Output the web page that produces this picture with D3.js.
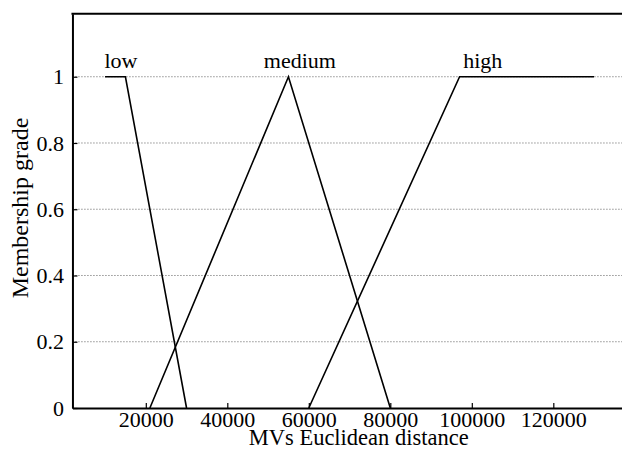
<!DOCTYPE html>
<html>
<head>
<meta charset="utf-8">
<script src="https://cdn.jsdelivr.net/npm/d3@7"></script>
<style>
  body { margin: 0; background: #fff; }
  svg text { font-family: "Liberation Serif", "Times New Roman", serif !important; }
</style>
</head>
<body>
<svg id="chart" width="622" height="450"></svg>
<script>
// membership functions (x in distance units, y in grade)
var lowPts = [[10000, 1], [15000, 1], [30000, 0]];
var mediumPts = [[21000, 0], [55000, 1], [80000, 0]];
var highPts = [[60000, 0], [97000, 1], [130000, 1]];
var mfNames = ["low", "medium", "high"];
var labelX = [13900, 57800, 102700];

var xTicks = [20000, 40000, 60000, 80000, 100000, 120000];
var yTicks = [0, 0.2, 0.4, 0.6, 0.8, 1];
var gridTicks = [0.2, 0.4, 0.6, 0.8, 1];

var X_MIN = 2000, X_MAX = 142500;
var Y_MIN = 0, Y_MAX = 1.19;
var FONT = 22;
var TITLE_FONT = 22.5;
var SERIF = "Liberation Serif, Times New Roman, serif";

var svg = d3.select("#chart");

var x = d3.scaleLinear().domain([X_MIN, X_MAX]).range([72.45, 645]);
var y = d3.scaleLinear().domain([Y_MIN, Y_MAX]).range([408, 13.8]);

// dotted grid lines
svg.append("g")
  .selectAll("line")
  .data(gridTicks)
  .enter().append("line")
  .attr("x1", x(X_MIN))
  .attr("x2", x(X_MAX))
  .attr("y1", function(d) { return y(d); })
  .attr("y2", function(d) { return y(d); })
  .attr("stroke", "#333")
  .attr("stroke-width", 0.8)
  .attr("stroke-dasharray", "1,2");

// membership lines
var line = d3.line()
  .x(function(d) { return x(d[0]); })
  .y(function(d) { return y(d[1]); });

[lowPts, mediumPts, highPts].forEach(function(pts) {
  svg.append("path")
    .attr("d", line(pts))
    .attr("fill", "none")
    .attr("stroke", "#000")
    .attr("stroke-width", 1.6);
});

// mf labels
svg.append("g")
  .selectAll("text")
  .data(mfNames)
  .enter().append("text")
  .attr("x", function(d, i) { return x(labelX[i]); })
  .attr("y", y(1) - 8.6)
  .attr("text-anchor", "middle")
  .attr("font-family", SERIF)
  .attr("font-size", FONT)
  .text(function(d) { return d; });

// axes
var xAxis = svg.append("g")
  .attr("transform", "translate(0," + y(Y_MIN) + ")")
  .call(d3.axisBottom(x).tickValues(xTicks).tickSize(-5).tickPadding(3).tickSizeOuter(0)
    .tickFormat(d3.format("d")));

var yAxis = svg.append("g")
  .attr("transform", "translate(" + x(X_MIN) + ",0)")
  .call(d3.axisLeft(y).tickValues(yTicks).tickSize(-5).tickPadding(8.5).tickSizeOuter(0)
    .tickFormat(function(d) { return String(+d.toFixed(1)); }));

[xAxis, yAxis].forEach(function(a) {
  a.attr("font-family", SERIF).attr("font-size", FONT);
  a.select(".domain").attr("stroke", "#000").attr("stroke-width", 2);
  a.selectAll(".tick line").attr("stroke", "#000").attr("stroke-width", 1.2);
  a.selectAll("text")
    .attr("font-family", SERIF)
    .attr("font-size", FONT)
    .attr("fill", "#000");
});

// top border
svg.append("line")
  .attr("x1", x(X_MIN) - 1)
  .attr("x2", x(X_MAX))
  .attr("y1", y(Y_MAX))
  .attr("y2", y(Y_MAX))
  .attr("stroke", "#000")
  .attr("stroke-width", 2);

// axis titles
svg.append("text")
  .attr("x", (x(X_MIN) + x(X_MAX)) / 2)
  .attr("y", 445)
  .attr("text-anchor", "middle")
  .attr("font-family", SERIF)
  .attr("font-size", TITLE_FONT)
  .text("MVs Euclidean distance");

svg.append("text")
  .attr("transform", "translate(28,208) rotate(-90)")
  .attr("text-anchor", "middle")
  .attr("font-family", SERIF)
  .attr("font-size", 24)
  .text("Membership grade");
</script>
</body>
</html>
